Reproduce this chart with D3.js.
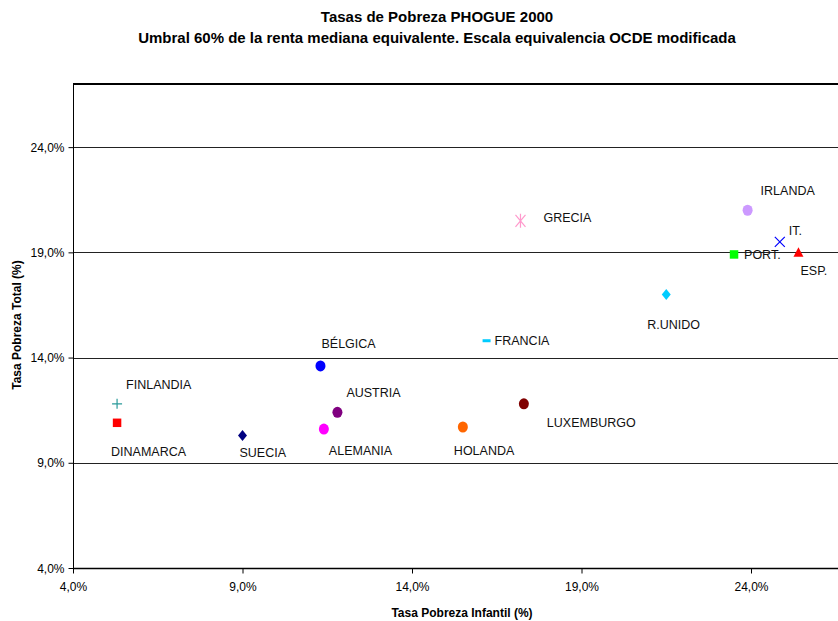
<!DOCTYPE html>
<html>
<head>
<meta charset="utf-8">
<script src="https://cdn.jsdelivr.net/npm/d3@7"></script>
<style>
  body { margin: 0; background: #fff; }
  svg { display: block; font-family: "Liberation Sans", Arial, sans-serif; }
</style>
</head>
<body>
<svg id="chart" width="838" height="621"></svg>
<script>
// country names, child poverty (x) and total poverty (y), in %
var countries = ["FINLANDIA", "DINAMARCA", "SUECIA", "BÉLGICA", "AUSTRIA", "ALEMANIA", "HOLANDA",
  "LUXEMBURGO", "FRANCIA", "GRECIA", "R.UNIDO", "IRLANDA", "IT.", "PORT.", "ESP."];
var childPoverty = [5.3, 5.3, 9.0, 11.3, 11.8, 11.4, 15.5, 17.3, 16.2, 17.2, 21.5, 23.9, 24.85, 23.5, 25.4];
var totalPoverty = [11.8, 10.9, 10.3, 13.6, 11.4, 10.6, 10.7, 11.8, 14.8, 20.5, 17.0, 21.0, 19.5, 18.9, 19.0];
var xTicks = [4, 9, 14, 19, 24];
var yTicks = [4, 9, 14, 19, 24];

// marker look per country
var markers = [
  { shape: "plus", color: "#2a9a9a" },
  { shape: "square", color: "#ff0000" },
  { shape: "diamond", color: "#000080" },
  { shape: "circle", color: "#0000ff" },
  { shape: "circle", color: "#800080" },
  { shape: "circle", color: "#ff00ff" },
  { shape: "circle", color: "#ff6600" },
  { shape: "circle", color: "#800000" },
  { shape: "dash", color: "#00ccff" },
  { shape: "star", color: "#ff99cc" },
  { shape: "diamond", color: "#00ccff" },
  { shape: "circle", color: "#cc99ff" },
  { shape: "cross", color: "#0000ff" },
  { shape: "square", color: "#00ff00" },
  { shape: "triangle", color: "#ff0000" }
];
// label offsets from the marker (px)
var labelOffsets = [[9, -19], [-6, 29], [-3, 17], [1, -22], [9, -20], [5, 22], [-9, 24],
  [23, 19], [8, 0], [23, -3], [-19, 30], [13, -20], [9, -11], [10, 0], [2, 18]];

var data = countries.map((c, i) => ({
  name: c, x: childPoverty[i], y: totalPoverty[i], m: markers[i], off: labelOffsets[i]
}));

var svg = d3.select("#chart");
var plotLeft = 73, plotTop = 84, plotBottom = 568, plotRight = 845;

var xScale = d3.scaleLinear().domain([4, 24]).range([plotLeft, 751]);
var yScale = d3.scaleLinear().domain([4, 27]).range([plotBottom, plotTop]);
var pct = v => d3.format(".1f")(v).replace(".", ",") + "%";

// titles
svg.append("text").attr("x", 437).attr("y", 22).attr("text-anchor", "middle")
  .style("font-weight", "bold").style("font-size", "15px")
  .text("Tasas de Pobreza PHOGUE 2000");
svg.append("text").attr("x", 437).attr("y", 43).attr("text-anchor", "middle")
  .style("font-weight", "bold").style("font-size", "15px")
  .text("Umbral 60% de la renta mediana equivalente. Escala equivalencia OCDE modificada");

// gridlines
svg.append("g").selectAll("line").data(yTicks.filter(t => t > 4)).join("line")
  .attr("x1", plotLeft).attr("x2", plotRight)
  .attr("y1", d => Math.round(yScale(d)) + 0.5).attr("y2", d => Math.round(yScale(d)) + 0.5)
  .attr("stroke", "#222").attr("stroke-width", 1);

// plot border (top)
svg.append("line").attr("x1", plotLeft).attr("x2", plotRight).attr("y1", plotTop).attr("y2", plotTop)
  .attr("stroke", "#000").attr("stroke-width", 2);

// axes
var yAxis = svg.append("g").attr("transform", "translate(" + (plotLeft + 0.5) + ",0)")
  .call(d3.axisLeft(yScale).tickValues(yTicks).tickFormat(pct).tickSize(5).tickSizeOuter(0));
var xAxis = svg.append("g").attr("transform", "translate(0," + (plotBottom + 0.5) + ")")
  .call(d3.axisBottom(xScale).tickValues(xTicks).tickFormat(pct).tickSize(5).tickSizeOuter(0));
yAxis.select(".domain").attr("d", "M0," + plotTop + "V" + plotBottom).attr("stroke", "#000");
xAxis.select(".domain").attr("d", "M" + plotLeft + ",0H" + plotRight).attr("stroke", "#000").attr("stroke-width", 1.5);
[xAxis, yAxis].forEach(a => {
  a.selectAll(".tick line").attr("stroke", "#000");
  a.selectAll(".tick text").attr("fill", "#000")
    .style("font-family", "'Liberation Sans', Arial, sans-serif").style("font-size", "12px");
});
yAxis.selectAll(".tick text").attr("x", -9).attr("dy", "0.35em");
xAxis.selectAll(".tick text").attr("y", 14);

// axis titles
svg.append("text").attr("x", 462).attr("y", 617).attr("text-anchor", "middle")
  .style("font-weight", "bold").style("font-size", "12px")
  .text("Tasa Pobreza Infantil (%)");
svg.append("text").attr("transform", "translate(21,325) rotate(-90)").attr("text-anchor", "middle")
  .style("font-weight", "bold").style("font-size", "12px")
  .text("Tasa Pobreza Total (%)");

// markers
var pts = svg.append("g").selectAll("g").data(data).join("g")
  .attr("transform", d => "translate(" + xScale(d.x) + "," + yScale(d.y) + ")");

pts.each(function (d) {
  var g = d3.select(this), c = d.m.color;
  if (d.m.shape === "circle") {
    g.append("ellipse").attr("rx", 5).attr("ry", 5.5).attr("fill", c);
  } else if (d.m.shape === "square") {
    g.append("path").attr("d", d3.symbol(d3.symbolSquare, 72)()).attr("fill", c);
  } else if (d.m.shape === "diamond") {
    g.append("path").attr("d", "M0,-5.5L4.5,0L0,5.5L-4.5,0Z").attr("fill", c);
  } else if (d.m.shape === "triangle") {
    g.append("path").attr("d", "M0,-5L5,4.5L-5,4.5Z").attr("fill", c);
  } else if (d.m.shape === "dash") {
    g.append("rect").attr("x", -4).attr("y", -1.5).attr("width", 8).attr("height", 3).attr("fill", c);
  } else if (d.m.shape === "plus") {
    g.append("path").attr("d", "M-5,0H5M0,-5V5").attr("stroke", c).attr("stroke-width", 1.2);
  } else if (d.m.shape === "cross") {
    g.append("path").attr("d", "M-5,-5L5,5M-5,5L5,-5").attr("stroke", c).attr("stroke-width", 1.2);
  } else if (d.m.shape === "star") {
    g.append("path").attr("d", "M-5,-6L5,6M-5,6L5,-6M0,-7V7").attr("stroke", c).attr("stroke-width", 1.2);
  }
});

// labels
pts.append("text")
  .attr("x", d => d.off[0]).attr("y", d => d.off[1]).attr("dy", "0.35em")
  .style("font-size", "12.5px").attr("fill", "#111")
  .text(d => d.name);
</script>
</body>
</html>
